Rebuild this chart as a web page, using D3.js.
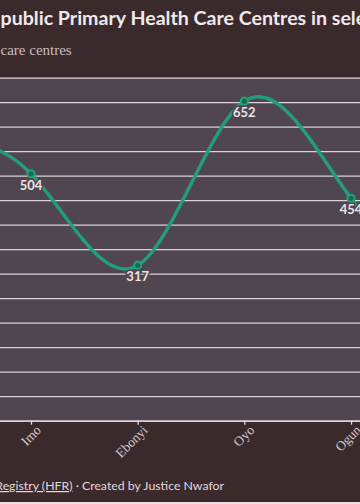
<!DOCTYPE html>
<html>
<head>
<meta charset="utf-8">
<title>Public Primary Health Care Centres</title>
<script src="https://cdn.jsdelivr.net/npm/d3@7"></script>
<style>
	body{ margin:0; background:#3b2a2c; overflow:hidden; }
	.grid line{ stroke:#ddd2db; stroke-width:1.3; }
	.grid path.domain{ display:none; }
	.xaxis path, .xaxis line{ stroke:#e6dde2; stroke-width:1.3; }
	.xaxis text{ fill:#d3c8cc; font-family:"Liberation Serif", serif; font-size:13.5px; }
</style>
</head>
<body>
<div id="chart"></div>
<script>
// states in the frame; first and last sit just outside the visible crop
var states = ["Enugu", "Imo", "Ebonyi", "Oyo", "Ogun", "Osun"];
var centres = [566, 504, 317, 652, 454, 265];
var labelled = ["Imo", "Ebonyi", "Oyo", "Ogun"];
var yTicks = [0, 50, 100, 150, 200, 250, 300, 350, 400, 450, 500, 550, 600, 650, 700];

var w = 360, h = 504;
var svg = d3.select("#chart").append("svg").attr("width", w).attr("height", h);

var x = d3.scalePoint().domain(states).range([-75.7, 457.7]);
var y = d3.scaleLinear().domain([0, 700]).range([420.7, 77.7]);

/* header */
svg.append("text").attr("x", 0.5).attr("y", 25)
	.attr("font-family", "Lato, sans-serif").attr("font-weight", 700).attr("font-size", 19.6)
	.attr("fill", "#f1e8ea").text("public Primary Health Care Centres in selected states");
svg.append("text").attr("x", 0.5).attr("y", 55)
	.attr("font-family", "Liberation Serif, serif").attr("font-size", 15)
	.attr("fill", "#c9bdc0").text("care centres");

/* plot band */
svg.append("rect").attr("x", 0).attr("y", y(700)).attr("width", w).attr("height", y(0) - y(700))
	.attr("fill", "#504650");

/* grid */
svg.append("g").attr("class", "grid")
	.call(d3.axisLeft(y).tickValues(yTicks).tickSize(-w).tickFormat(""));

/* x axis */
var xg = svg.append("g").attr("class", "xaxis").attr("transform", "translate(0," + y(0) + ")")
	.call(d3.axisBottom(x).tickSize(4).tickSizeOuter(0));
xg.selectAll(".tick text")
	.attr("text-anchor", "end")
	.attr("transform", "translate(7,7) rotate(-45)")
	.attr("dy", "0.35em").attr("y", 0).attr("x", 0);

/* line */
var data = states.map(function(d, i){ return {state: d, value: centres[i]}; });
var line = d3.line().curve(d3.curveNatural)
	.x(function(d){ return x(d.state); }).y(function(d){ return y(d.value); });
svg.append("path").attr("d", line(data))
	.attr("fill", "none").attr("stroke", "#229f79").attr("stroke-width", 3.4);

var shown = data.filter(function(d){ return labelled.indexOf(d.state) >= 0; });
svg.append("g").selectAll("circle").data(shown).enter().append("circle")
	.attr("cx", function(d){ return x(d.state); }).attr("cy", function(d){ return y(d.value); })
	.attr("r", 3.6).attr("fill", "#17694f").attr("stroke", "#23a37b").attr("stroke-width", 2);

svg.append("g").selectAll("text").data(shown).enter().append("text")
	.attr("x", function(d){ return x(d.state); }).attr("y", function(d){ return y(d.value) + 16; })
	.attr("text-anchor", "middle")
	.attr("font-family", "Lato, sans-serif").attr("font-weight", 700).attr("font-size", 13)
	.attr("fill", "#ebe3e8").attr("stroke", "#504650").attr("stroke-width", 3)
	.attr("paint-order", "stroke").text(function(d){ return d.value; });

/* source */
var src = svg.append("text").attr("x", 224).attr("y", 490).attr("text-anchor", "end")
	.attr("font-family", "Lato, sans-serif").attr("font-size", 12.3).attr("fill", "#e2d9dc");
src.append("tspan").attr("text-decoration", "underline").text("Registry (HFR)");
src.append("tspan").text(" · Created by Justice Nwafor");

svg.append("rect").attr("x", 0).attr("y", 502).attr("width", w).attr("height", 2).attr("fill", "#e9e2e3");
</script>
</body>
</html>
